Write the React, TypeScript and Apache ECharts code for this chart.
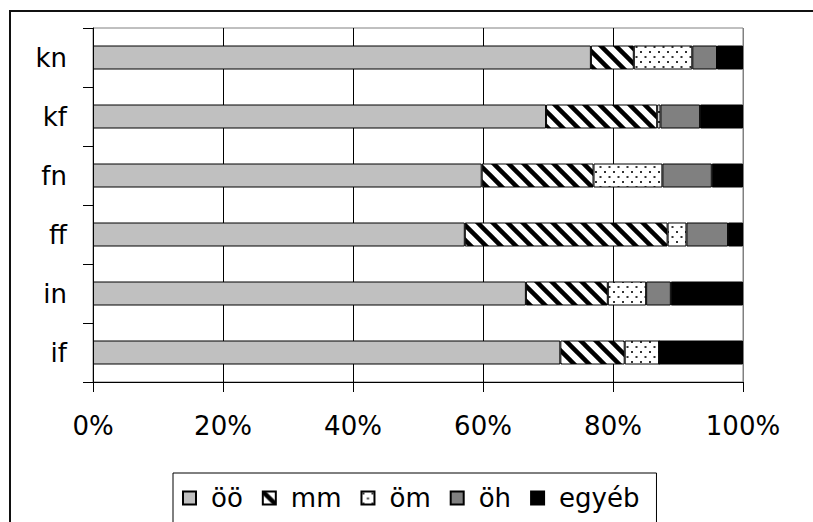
import React, { useEffect, useRef } from "react";
import * as echarts from "echarts";

// Categories listed bottom-to-top, as ECharts draws a category y axis.
const categories = ["if", "in", "ff", "fn", "kf", "kn"];
const seriesNames = ["öö", "mm", "öm", "öh", "egyéb"];
const oo = [71.9, 66.6, 57.2, 59.8, 69.7, 76.6];
const mm = [9.9, 12.6, 31.2, 17.2, 17.1, 6.6];
const om = [5.3, 5.9, 2.9, 10.6, 0.5, 9.0];
const oh = [0, 3.8, 6.4, 7.6, 6.1, 3.8];
const egyeb = [12.9, 11.1, 2.3, 4.8, 6.6, 4.0];
const percentTicks = [0, 20, 40, 60, 80, 100];

const FONT = "DejaVu Sans";

function hatchCanvas(): HTMLCanvasElement {
  const s = 15;
  const c = document.createElement("canvas");
  c.width = s;
  c.height = s;
  const ctx = c.getContext("2d")!;
  ctx.fillStyle = "#fff";
  ctx.fillRect(0, 0, s, s);
  ctx.strokeStyle = "#000";
  ctx.lineWidth = 4.5;
  for (const x0 of [-s, 0, s]) {
    ctx.beginPath();
    ctx.moveTo(x0 - 2, -2);
    ctx.lineTo(x0 + s + 2, s + 2);
    ctx.stroke();
  }
  return c;
}

function dotCanvas(): HTMLCanvasElement {
  const w = 9;
  const h = 10;
  const c = document.createElement("canvas");
  c.width = w;
  c.height = h;
  const ctx = c.getContext("2d")!;
  ctx.fillStyle = "#fff";
  ctx.fillRect(0, 0, w, h);
  ctx.fillStyle = "#333";
  ctx.fillRect(1, 1, 2, 2);
  ctx.fillRect(5.5, 6, 2, 2);
  return c;
}

export default function App() {
  const ref = useRef<HTMLDivElement>(null);

  useEffect(() => {
    if (!ref.current) return;
    const chart = echarts.init(ref.current, null, { renderer: "svg" });

    const fills: any[] = [
      "#C0C0C0",
      { image: hatchCanvas(), repeat: "repeat" },
      { image: dotCanvas(), repeat: "repeat" },
      "#808080",
      "#000000",
    ];
    const values = [oo, mm, om, oh, egyeb];

    chart.setOption({
      animation: false,
      backgroundColor: "#fff",
      textStyle: { fontFamily: FONT },
      grid: {
        left: 93,
        top: 28,
        width: 650,
        height: 354,
        show: true,
        borderColor: "#808080",
        borderWidth: 1,
        backgroundColor: "transparent",
      },
      xAxis: {
        type: "value",
        min: percentTicks[0],
        max: percentTicks[percentTicks.length - 1],
        interval: 20,
        axisLine: { show: true, lineStyle: { color: "#000", width: 1 } },
        axisTick: { show: true, length: 10, lineStyle: { color: "#000" } },
        axisLabel: {
          formatter: "{value}%",
          fontSize: 26,
          fontFamily: FONT,
          color: "#000",
          margin: 31,
        },
        splitLine: {
          show: true,
          lineStyle: {
            color: ["#000", "#000", "#000", "#000", "#000", "#808080"],
            width: 1,
          },
        },
      },
      yAxis: {
        type: "category",
        data: categories,
        axisLine: { show: true, lineStyle: { color: "#000", width: 1 } },
        axisTick: { show: true, length: 10, lineStyle: { color: "#000" } },
        axisLabel: {
          fontSize: 26,
          fontFamily: FONT,
          color: "#000",
          margin: 26,
        },
        splitLine: { show: false },
      },
      legend: {
        data: seriesNames,
        orient: "horizontal",
        left: 173,
        top: 473,
        icon: "rect",
        itemWidth: 13,
        itemHeight: 13,
        itemGap: 19,
        padding: [12, 17, 40, 9],
        backgroundColor: "#fff",
        borderColor: "#000",
        borderWidth: 1,
        textStyle: {
          fontSize: 26,
          fontFamily: FONT,
          color: "#000",
          padding: [0, 0, 0, 10],
        },
      },
      graphic: [
        {
          // chart-area frame: left and top edges (the rest runs off the canvas)
          type: "polyline",
          z: -1,
          shape: {
            points: [
              [10, 540],
              [10, 11],
              [840, 11],
            ],
          },
          style: { fill: "none", stroke: "#111", lineWidth: 2 },
          silent: true,
        },
      ],
      series: seriesNames.map((name, i) => ({
        name,
        type: "bar",
        stack: "total",
        barWidth: 24,
        data: values[i],
        itemStyle: {
          color: fills[i],
          borderColor: "#000",
          borderWidth: 1,
        },
        emphasis: { disabled: true },
      })),
    });

    return () => chart.dispose();
  }, []);

  return (
    <div
      ref={ref}
      style={{ position: "fixed", left: 0, top: 0, width: 813, height: 522 }}
    />
  );
}
